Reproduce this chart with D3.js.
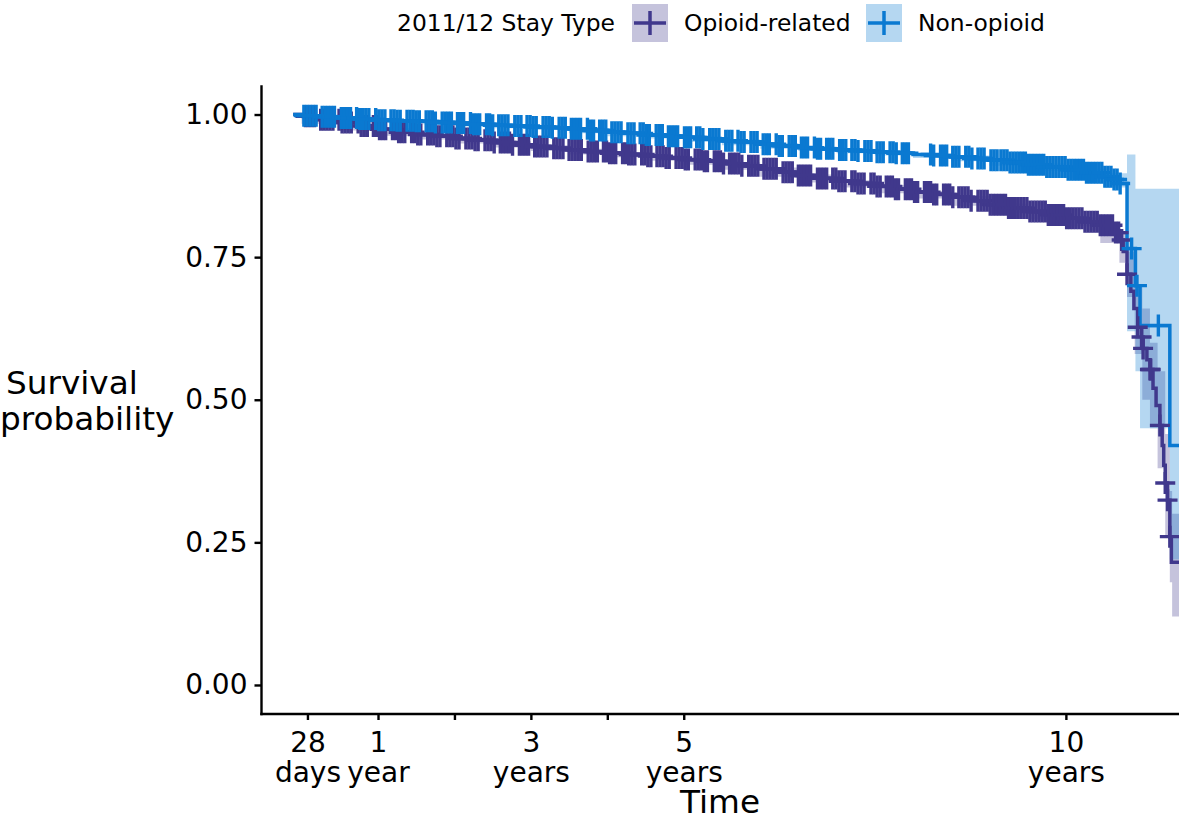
<!DOCTYPE html>
<html><head><meta charset="utf-8">
<script src="https://cdn.jsdelivr.net/npm/d3@7"></script>
<style>
body{margin:0;background:#fff}
svg{display:block}
text{font-family:"DejaVu Sans",sans-serif;fill:#000}
</style>
</head><body>
<svg id="c" width="1179" height="820"></svg>
<script>
// ---------- data ----------
const groups = ["Opioid-related", "Non-opioid"];
const legendTitle = "2011/12 Stay Type";
const xTickValues = [0.0767, 1, 2, 3, 4, 5, 10]; // years (28 days, 1 year, ...)
const xTickLabels = [["28","days"],["1","year"],[],["3","years"],[],["5","years"],["10","years"]];
const yTickValues = [0, 0.25, 0.5, 0.75, 1];

// Opioid-related: Kaplan-Meier steps (time in years, survival)
const opioidTime = [-0.11,0,0.25,0.5,0.75,1,1.25,1.5,1.75,2,2.25,2.5,2.75,3,3.25,3.5,3.75,4,4.25,4.5,4.75,5,5.25,5.5,5.75,6,6.25,6.5,6.75,7,7.25,7.5,7.75,8,8.25,8.5,8.75,9,9.25,9.5,9.75,10,10.25,10.45,10.64,10.71,10.75,10.80,10.85,10.89,10.94,10.99,11.01,11.06,11.10,11.14,11.18,11.23,11.26,11.28,11.30,11.33,11.36,11.38,11.7];
const opioidSurv = [1,0.997,0.991,0.986,0.980,0.974,0.969,0.965,0.962,0.958,0.955,0.951,0.947,0.944,0.941,0.938,0.935,0.932,0.930,0.927,0.924,0.921,0.918,0.914,0.910,0.905,0.899,0.893,0.888,0.883,0.879,0.874,0.869,0.864,0.860,0.855,0.849,0.842,0.836,0.830,0.824,0.818,0.812,0.806,0.793,0.780,0.760,0.720,0.690,0.660,0.627,0.610,0.590,0.570,0.553,0.520,0.490,0.455,0.420,0.385,0.354,0.324,0.260,0.215,0.215];
const opioidCiTime = [-0.11,0,0.5,1,1.5,2,2.5,3,3.5,4,4.5,5,5.5,6,6.5,7,7.5,8,8.5,9,9.5,10,10.45,10.7,10.8,10.9,11.0,11.1,11.2,11.3,11.36,11.39,11.7];
const opioidCiLow  = [1,0.984,0.972,0.963,0.956,0.949,0.942,0.936,0.930,0.925,0.919,0.912,0.903,0.891,0.881,0.872,0.862,0.853,0.840,0.828,0.816,0.804,0.775,0.74,0.68,0.58,0.50,0.45,0.38,0.26,0.18,0.12,0.12];
const opioidCiHigh = [1,0.999,0.988,0.976,0.967,0.960,0.953,0.946,0.940,0.934,0.929,0.923,0.916,0.907,0.895,0.885,0.876,0.866,0.857,0.844,0.832,0.820,0.81,0.79,0.76,0.70,0.66,0.60,0.55,0.44,0.34,0.30,0.30];
const opioidCensor = [0.05,0.09,0.13,0.17,0.25,0.29,0.33,0.37,0.41,0.49,0.53,0.57,0.61,0.65,0.74,0.78,0.82,0.86,0.94,0.98,
1.02,1.06,1.10,1.19,1.23,1.27,1.31,1.35,1.44,1.48,1.52,1.56,1.65,1.69,1.73,1.77,1.81,1.90,1.94,1.98,
2.02,2.06,2.15,2.19,2.23,2.27,2.31,2.40,2.44,2.48,2.52,2.60,2.64,2.68,2.72,2.76,2.85,2.89,2.93,2.97,
3.05,3.09,3.13,3.17,3.21,3.30,3.34,3.38,3.42,3.50,3.54,3.58,3.62,3.66,3.75,3.79,3.83,3.87,3.95,3.99,
4.03,4.07,4.11,4.20,4.24,4.28,4.32,4.36,4.45,4.49,4.53,4.57,4.65,4.69,4.73,4.77,4.81,4.90,4.94,4.98,
5.02,5.06,5.15,5.19,5.23,5.27,5.31,5.40,5.44,5.48,5.52,5.60,5.64,5.68,5.72,5.76,5.85,5.89,5.93,5.97,
6.05,6.09,6.13,6.17,6.21,6.30,6.34,6.38,6.42,6.50,6.54,6.58,6.62,6.66,6.75,6.79,6.83,6.87,6.95,6.99,
7.03,7.07,7.11,7.20,7.24,7.28,7.32,7.36,7.45,7.49,7.53,7.57,7.65,7.69,7.73,7.77,7.81,7.90,7.94,7.98,
8.02,8.06,8.15,8.19,8.23,8.27,8.31,8.40,8.44,8.48,8.52,8.60,8.64,8.68,8.72,8.76,8.85,8.89,8.93,8.97,
9.01,9.05,9.09,9.13,9.17,9.21,9.25,9.29,9.33,9.37,9.41,9.45,9.49,9.53,9.57,9.61,9.65,9.69,9.73,9.77,9.81,9.85,9.89,9.93,9.97,
10.01,10.05,10.09,10.13,10.17,10.21,10.25,10.29,10.33,10.37,10.41,10.45,10.49,10.53,10.57,10.61,10.65,10.69,10.73,
10.80,10.94,10.99,11.01,11.10,11.11,11.23,11.30,11.33,11.36];

// Non-opioid
const nonOpioidTime = [-0.11,0,0.25,0.5,0.75,1,1.25,1.5,1.75,2,2.25,2.5,2.75,3,3.25,3.5,3.75,4,4.25,4.5,4.75,5,5.25,5.5,5.75,6,6.25,6.5,6.75,7,7.25,7.5,7.75,8,8.25,8.5,8.75,9,9.25,9.5,9.75,10,10.25,10.5,10.6,10.71,10.80,10.91,10.97,11.36,11.7];
const nonOpioidSurv = [1,0.998,0.996,0.994,0.992,0.990,0.989,0.988,0.986,0.985,0.983,0.981,0.980,0.978,0.977,0.975,0.972,0.969,0.967,0.964,0.962,0.960,0.957,0.954,0.952,0.948,0.945,0.942,0.940,0.938,0.936,0.934,0.932,0.930,0.928,0.926,0.923,0.920,0.916,0.912,0.908,0.903,0.898,0.891,0.886,0.879,0.765,0.700,0.630,0.420,0.420];
const nonOpioidCiTime = [-0.11,0,0.5,1,1.5,2,2.5,3,3.5,4,4.5,5,5.5,6,6.5,7,7.5,8,8.5,9,9.5,10,10.5,10.8,10.91,10.97,11.36,11.7];
const nonOpioidCiLow  = [1,0.992,0.988,0.986,0.983,0.979,0.976,0.973,0.967,0.962,0.958,0.952,0.946,0.940,0.936,0.932,0.928,0.924,0.918,0.910,0.901,0.889,0.872,0.62,0.55,0.45,0.22,0.22];
const nonOpioidCiHigh = [1,1.0,0.996,0.992,0.990,0.987,0.983,0.980,0.977,0.971,0.966,0.962,0.956,0.950,0.944,0.940,0.936,0.932,0.928,0.922,0.914,0.905,0.897,0.93,0.87,0.87,0.87,0.87];
const nonOpioidCensor = [0.03,0.07,0.11,0.15,0.19,0.27,0.31,0.35,0.39,0.43,0.52,0.56,0.60,0.64,0.72,0.76,0.80,0.84,0.88,0.97,
1.01,1.05,1.09,1.17,1.21,1.25,1.29,1.38,1.42,1.46,1.50,1.54,1.63,1.67,1.71,1.75,1.84,1.88,1.92,1.96,
2.04,2.08,2.12,2.21,2.25,2.29,2.33,2.42,2.46,2.50,2.58,2.62,2.66,2.70,2.79,2.83,2.87,2.95,2.99,
3.03,3.07,3.16,3.20,3.24,3.28,3.37,3.41,3.45,3.53,3.57,3.61,3.65,3.74,3.78,3.82,3.90,3.94,3.98,
4.06,4.10,4.14,4.18,4.27,4.31,4.35,4.43,4.47,4.51,4.55,4.64,4.68,4.72,4.80,4.84,4.88,4.92,
5.01,5.05,5.09,5.17,5.21,5.25,5.34,5.38,5.42,5.46,5.55,5.59,5.63,5.71,5.75,5.79,5.88,5.92,5.96,
6.04,6.08,6.12,6.21,6.25,6.29,6.38,6.42,6.46,6.54,6.58,6.62,6.71,6.75,6.79,6.87,6.91,6.95,
7.04,7.08,7.12,7.20,7.24,7.28,7.37,7.41,7.45,7.53,7.57,7.61,7.70,7.74,7.78,7.86,7.90,7.94,
8.23,8.27,8.36,8.40,8.44,8.52,8.56,8.60,8.69,8.73,8.77,8.85,8.89,8.93,
9.02,9.06,9.10,9.15,9.19,9.23,9.27,9.31,9.35,9.39,9.43,9.47,9.51,9.55,9.59,9.63,9.67,9.71,9.75,9.79,9.83,9.87,9.91,9.95,9.99,
10.03,10.07,10.11,10.15,10.19,10.23,10.27,10.31,10.35,10.39,10.43,10.47,10.51,10.55,10.59,10.63,10.67,10.71,
10.86,10.93,11.21];

const groupColors = ["#40388c", "#0a79d1"];

// ---------- build ----------
const svg = d3.select("#c");
const W = 1179;
const x = d3.scaleLinear().domain([-0.531, 11.48]).range([261, 1179]);
const y = d3.scaleLinear().domain([-0.05, 1.05]).range([713.5, 86]);

const mk = (T, S) => T.map((t, i) => ({t, s: S[i]}));
const mkCi = (T, L, U) => T.map((t, i) => ({t, lo: L[i], hi: U[i]}));
const curves = [
  {name: groups[0], color: groupColors[0], pts: mk(opioidTime, opioidSurv), ci: mkCi(opioidCiTime, opioidCiLow, opioidCiHigh), cens: opioidCensor},
  {name: groups[1], color: groupColors[1], pts: mk(nonOpioidTime, nonOpioidSurv), ci: mkCi(nonOpioidCiTime, nonOpioidCiLow, nonOpioidCiHigh), cens: nonOpioidCensor}
];

svg.append("clipPath").attr("id", "pc").append("rect")
  .attr("x", 261).attr("y", 60).attr("width", W - 261).attr("height", 713.5 - 60);
const plot = svg.append("g").attr("clip-path", "url(#pc)");

const area = d3.area().curve(d3.curveStepAfter).x(d => x(d.t)).y0(d => y(d.lo)).y1(d => y(d.hi));
curves.forEach(c => plot.append("path").datum(c.ci).attr("d", area)
  .attr("fill", c.color).attr("fill-opacity", 0.3));

const line = d3.line().curve(d3.curveStepAfter).x(d => x(d.t)).y(d => y(d.s));
curves.forEach(c => plot.append("path").datum(c.pts).attr("d", line)
  .attr("fill", "none").attr("stroke", c.color).attr("stroke-width", 3.5));

const bis = d3.bisector(d => d.t).right;
curves.forEach(c => {
  const g = plot.append("g").attr("stroke", c.color).attr("stroke-width", 3.4).attr("fill", "none");
  g.selectAll("path").data(c.cens).join("path").attr("d", ct => {
    const i = Math.max(0, bis(c.pts, ct) - 1);
    const px = x(ct), py = y(c.pts[i].s);
    return `M${px - 10},${py}H${px + 10}M${px},${py - 11}V${py + 11}`;
  });
});

// axes
const yAxis = svg.append("g").attr("transform", "translate(261,0)")
  .call(d3.axisLeft(y).tickValues(yTickValues).tickFormat(d3.format(".2f")).tickSize(6.5).tickPadding(7).tickSizeOuter(0));
yAxis.selectAll("text").attr("font-size", 28).attr("font-family", "DejaVu Sans").attr("fill", "#000");
const xAxis = svg.append("g").attr("transform", "translate(0,713.5)")
  .call(d3.axisBottom(x).tickValues(xTickValues).tickFormat("").tickSize(6.5).tickSizeOuter(0));
[yAxis, xAxis].forEach(a => {
  a.select(".domain").attr("stroke", "#000").attr("stroke-width", 2.4).attr("stroke-linecap", "square");
  a.selectAll(".tick line").attr("stroke", "#000").attr("stroke-width", 2.4);
});
xAxis.selectAll(".tick").each(function(d, i) {
  const lab = xTickLabels[i];
  if (!lab.length) return;
  const t = d3.select(this).append("text").attr("text-anchor", "middle").attr("font-size", 28)
    .attr("font-family", "DejaVu Sans").attr("fill", "#000");
  lab.forEach((s, j) => t.append("tspan").attr("x", 0).attr("y", 38.5 + j * 30).text(s));
});

// axis titles
svg.append("text").attr("x", 720).attr("y", 813).attr("text-anchor", "middle").attr("font-size", 32.7).text("Time");
svg.append("text").attr("x", 6).attr("y", 394).attr("font-size", 32.7).text("Survival");
svg.append("text").attr("x", 0).attr("y", 430).attr("font-size", 32.7).text("probability");

// legend
const leg = svg.append("g");
leg.append("text").attr("x", 397).attr("y", 30.5).attr("font-size", 23.4).text(legendTitle);
const keyX = [632, 866], labX = [684, 918];
curves.forEach((c, i) => {
  leg.append("rect").attr("x", keyX[i]).attr("y", 4).attr("width", 36).attr("height", 38)
    .attr("fill", c.color).attr("fill-opacity", 0.3);
  leg.append("path").attr("d", `M${keyX[i] + 2},23H${keyX[i] + 34}M${keyX[i] + 18},11V35`)
    .attr("stroke", c.color).attr("stroke-width", 3.5).attr("fill", "none");
  leg.append("text").attr("x", labX[i]).attr("y", 30.5).attr("font-size", 23.4).text(c.name);
});
</script>
</body></html>
